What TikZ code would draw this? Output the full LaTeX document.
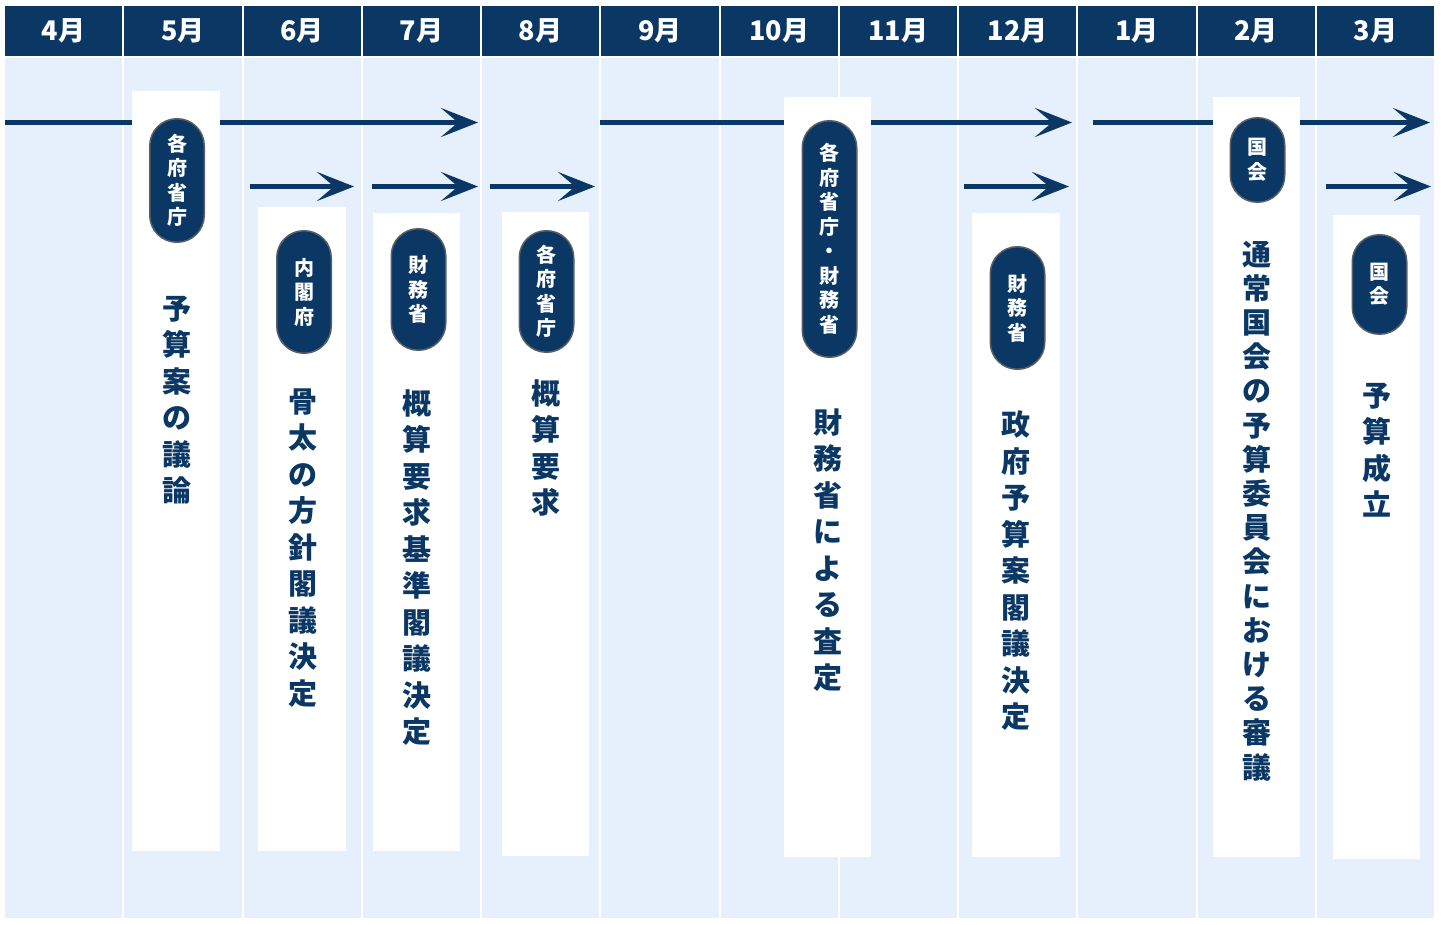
\documentclass[tikz,border=0pt]{standalone}
\usepackage{fontspec}
\newfontfamily\jp{Noto Sans CJK JP}
\usetikzlibrary{arrows.meta}
\definecolor{navy}{HTML}{0B3764}
\definecolor{bgblue}{HTML}{E6F0FD}
\definecolor{pillgray}{HTML}{5A5F66}
\tikzset{
  hdr/.style={fill=navy, text=white, minimum width=117.25pt, minimum height=50pt, inner sep=0pt,
    font=\jp\bfseries\fontsize{27}{27}\selectfont},
  colbody/.style={fill=bgblue, minimum width=117.25pt, minimum height=860pt, inner sep=0pt},
  whitebox/.style={fill=white, inner sep=0pt},
  pill/.style={draw=pillgray, line width=1.5pt, fill=navy, text=white, rounded corners=27pt,
    minimum width=54.5pt, inner sep=0pt, align=center,
    font=\jp\bfseries\fontsize{20}{24.5}\selectfont},
  vt/.style={text=navy, inner sep=0pt, align=center,
    font=\jp\bfseries\fontsize{29}{36.5}\selectfont},
  flow/.style={draw=navy, line width=5pt},
  flowarrow/.style={flow, -{Stealth[length=37pt, width=29pt, inset=17pt]}},
}
\begin{document}
\begin{tikzpicture}[x=1pt,y=-1pt]
\fill[white] (0,0) rectangle (1441,925);
\useasboundingbox (0,0) rectangle (1441,925);
% columns
\foreach \m [count=\i from 0] in {4月,5月,6月,7月,8月,9月,10月,11月,12月,1月,2月,3月}{
  \node[hdr] (h\i) at ({4+(\i+0.5)*119.25},31) {\m};
  \node[colbody] (c\i) at ({4+(\i+0.5)*119.25},488) {};
}
% white boxes
\node[whitebox, minimum width=88pt, minimum height=760pt] (b1) at (176,471) {};
\node[whitebox, minimum width=88pt, minimum height=644pt] (b2) at (302,529) {};
\node[whitebox, minimum width=87pt, minimum height=638pt] (b3) at (416.5,532) {};
\node[whitebox, minimum width=87pt, minimum height=644pt] (b4) at (545.5,534) {};
\node[whitebox, minimum width=87pt, minimum height=760pt] (b5) at (827.5,477) {};
\node[whitebox, minimum width=88pt, minimum height=644pt] (b6) at (1016,535) {};
\node[whitebox, minimum width=87pt, minimum height=760pt] (b7) at (1256.5,477) {};
\node[whitebox, minimum width=87pt, minimum height=644pt] (b8) at (1376.5,537) {};
% pills
\node[pill, minimum height=123.5pt] (p1) at (177,180.5) {各\\府\\省\\庁};
\node[pill, minimum height=122.5pt] (p2) at (304,292) {内\\閣\\府};
\node[pill, minimum height=121.5pt] (p3) at (418.5,289.5) {財\\務\\省};
\node[pill, minimum height=121.5pt] (p4) at (546.5,291.5) {各\\府\\省\\庁};
\node[pill, minimum height=236.5pt] (p5) at (829.5,239) {各\\府\\省\\庁\\・\\財\\務\\省};
\node[pill, minimum height=122.5pt] (p6) at (1017.5,308) {財\\務\\省};
\node[pill, minimum height=84.5pt] (p7) at (1257.5,160) {国\\会};
\node[pill, minimum height=99.5pt] (p8) at (1379.5,284.5) {国\\会};
% vertical texts
\node[vt] (t1) at (177,400) {予\\算\\案\\の\\議\\論};
\node[vt] (t2) at (303,548) {骨\\太\\の\\方\\針\\閣\\議\\決\\定};
\node[vt] (t3) at (417,567.5) {概\\算\\要\\求\\基\\準\\閣\\議\\決\\定};
\node[vt] (t4) at (546,448) {概\\算\\要\\求};
\node[vt] (t5) at (828,550) {財\\務\\省\\に\\よ\\る\\査\\定};
\node[vt] (t6) at (1016,571) {政\\府\\予\\算\\案\\閣\\議\\決\\定};
\node[vt, font=\jp\bfseries\fontsize{29}{34.2}\selectfont] (t7) at (1257,511) {通\\常\\国\\会\\の\\予\\算\\委\\員\\会\\に\\お\\け\\る\\審\\議};
\node[vt] (t8) at (1377,450) {予\\算\\成\\立};
% row 1 flow
\coordinate (r1a) at (5,122.5);
\coordinate (r1b) at (478,122.5);
\coordinate (r1c) at (600,122.5);
\coordinate (r1d) at (1072,122.5);
\coordinate (r1e) at (1093,122.5);
\coordinate (r1f) at (1430,122.5);
\draw[flow] (r1a) -- (b1.west |- r1a);
\draw[flowarrow] (b1.east |- r1a) -- (r1b);
\draw[flow] (r1c) -- (b5.west |- r1c);
\draw[flowarrow] (b5.east |- r1c) -- (r1d);
\draw[flow] (r1e) -- (b7.west |- r1e);
\draw[flowarrow] (b7.east |- r1e) -- (r1f);
% row 2 flow
\coordinate (r2a) at (250,186.5);
\coordinate (r2b) at (354,186.5);
\coordinate (r2c) at (372,186.5);
\coordinate (r2d) at (478,186.5);
\coordinate (r2e) at (490,186.5);
\coordinate (r2f) at (595,186.5);
\coordinate (r2g) at (964,186.5);
\coordinate (r2h) at (1069,186.5);
\coordinate (r2i) at (1326,186.5);
\coordinate (r2j) at (1431,186.5);
\draw[flowarrow] (r2a) -- (r2b);
\draw[flowarrow] (r2c) -- (r2d);
\draw[flowarrow] (r2e) -- (r2f);
\draw[flowarrow] (r2g) -- (r2h);
\draw[flowarrow] (r2i) -- (r2j);
\end{tikzpicture}
\end{document}
